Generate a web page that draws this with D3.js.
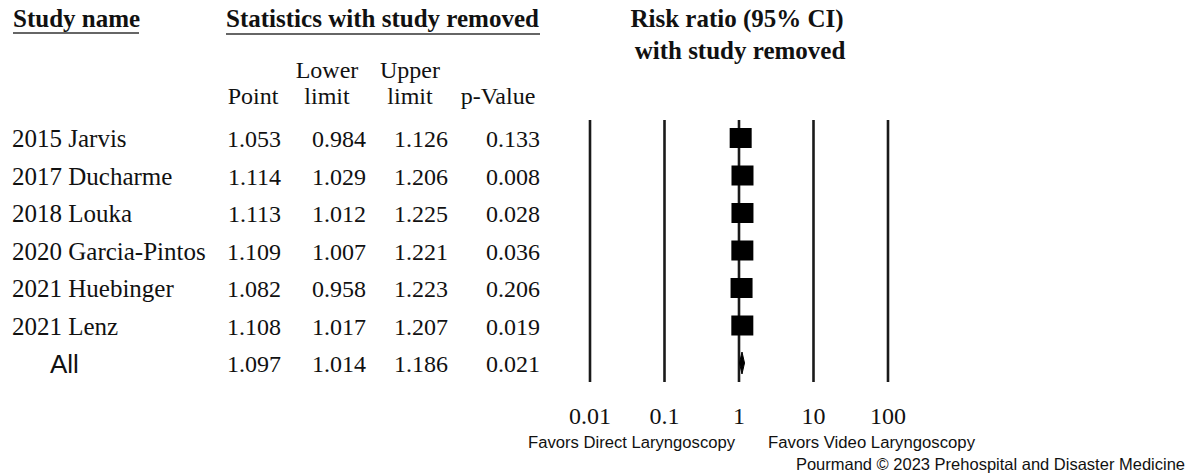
<!DOCTYPE html>
<html>
<head>
<meta charset="utf-8">
<script src="https://cdn.jsdelivr.net/npm/d3@7"></script>
<style>
  html, body { margin: 0; padding: 0; background: #fff; }
  svg { display: block; }
  .serif { font-family: "Liberation Serif", "Times New Roman", serif; fill: #111; }
  .sans { font-family: "Liberation Sans", Arial, sans-serif; fill: #111; }
</style>
</head>
<body>
<svg id="chart" width="1191" height="476"></svg>
<script>
// Leave-one-out sensitivity analysis: risk ratio with each study removed
const studies = ["2015 Jarvis", "2017 Ducharme", "2018 Louka", "2020 Garcia-Pintos", "2021 Huebinger", "2021 Lenz"];
const pointEst = [1.053, 1.114, 1.113, 1.109, 1.082, 1.108];
const lowerLim = [0.984, 1.029, 1.012, 1.007, 0.958, 1.017];
const upperLim = [1.126, 1.206, 1.225, 1.221, 1.223, 1.207];
const pValues  = [0.133, 0.008, 0.028, 0.036, 0.206, 0.019];
const overall  = { label: "All", point: 1.097, lower: 1.014, upper: 1.186, p: 0.021 };
const tickValues = [0.01, 0.1, 1, 10, 100];
const tickLabels = ["0.01", "0.1", "1", "10", "100"];

const svg = d3.select("#chart");
const fmt = d3.format(".3f");

// Rows: six studies followed by the pooled estimate
const rows = studies.map((s, i) => ({
  label: s, point: pointEst[i], lower: lowerLim[i], upper: upperLim[i], p: pValues[i], pooled: false
})).concat([{ ...overall, pooled: true }]);

const y = d3.scalePoint().domain(d3.range(rows.length)).range([147, 372]); // text baselines
const x = d3.scaleLog().domain([0.01, 100]).range([590, 888]);

// Column headers
const hdr = svg.append("g").attr("class", "serif");
hdr.append("text").attr("x", 13).attr("y", 27).attr("font-size", 25).attr("font-weight", "bold").text("Study name");
svg.append("line").attr("x1", 13).attr("x2", 139).attr("y1", 33).attr("y2", 33).attr("stroke", "#333").attr("stroke-width", 1.6);
hdr.append("text").attr("x", 226).attr("y", 27).attr("font-size", 25).attr("font-weight", "bold")
  .attr("textLength", 313).attr("lengthAdjust", "spacingAndGlyphs").text("Statistics with study removed");
svg.append("line").attr("x1", 226).attr("x2", 540).attr("y1", 34).attr("y2", 34).attr("stroke", "#333").attr("stroke-width", 1.6);

hdr.append("text").attr("x", 737).attr("y", 27).attr("font-size", 25).attr("font-weight", "bold").attr("text-anchor", "middle").text("Risk ratio (95% CI)");
hdr.append("text").attr("x", 740).attr("y", 59).attr("font-size", 25).attr("font-weight", "bold").attr("text-anchor", "middle").text("with study removed");

const colHeads = [
  { x: 253, l1: "", l2: "Point" },
  { x: 327, l1: "Lower", l2: "limit" },
  { x: 410, l1: "Upper", l2: "limit" },
  { x: 498, l1: "", l2: "p-Value" }
];
colHeads.forEach(c => {
  hdr.append("text").attr("x", c.x).attr("y", 78).attr("font-size", 24).attr("text-anchor", "middle").text(c.l1);
  hdr.append("text").attr("x", c.x).attr("y", 104).attr("font-size", 24).attr("text-anchor", "middle").text(c.l2);
});

// Table body
const colRight = [281, 366, 448, 540];
const body = svg.append("g");
rows.forEach((r, i) => {
  const yy = y(i);
  if (r.pooled) {
    body.append("text").attr("class", "sans").attr("x", 50).attr("y", yy + 1).attr("font-size", 26).text(r.label);
  } else {
    body.append("text").attr("class", "serif").attr("x", 12).attr("y", yy).attr("font-size", 25).text(r.label);
  }
  [r.point, r.lower, r.upper, r.p].forEach((v, j) => {
    body.append("text").attr("class", "serif").attr("x", colRight[j]).attr("y", yy)
      .attr("font-size", 24).attr("text-anchor", "end").text(fmt(v));
  });
});

// Reference lines at each tick of the log axis
const plot = svg.append("g");
plot.selectAll("line.grid").data(tickValues).join("line")
  .attr("class", "grid")
  .attr("x1", d => x(d)).attr("x2", d => x(d))
  .attr("y1", 120).attr("y2", 382)
  .attr("stroke", "#1a1a1a").attr("stroke-width", 2.6);

// Tick labels
svg.append("g").selectAll("text").data(tickValues).join("text")
  .attr("class", "serif")
  .attr("x", d => x(d)).attr("y", 424)
  .attr("font-size", 24).attr("text-anchor", "middle")
  .text((d, i) => tickLabels[i]);

// Study estimates: CI whisker plus square marker
const studyRows = rows.filter(r => !r.pooled);
const boxW = 22, boxH = 20;
plot.selectAll("line.ci").data(studyRows).join("line")
  .attr("class", "ci")
  .attr("x1", d => x(d.lower)).attr("x2", d => x(d.upper))
  .attr("y1", (d, i) => y(i) - 9).attr("y2", (d, i) => y(i) - 9)
  .attr("stroke", "#000").attr("stroke-width", 2);
plot.selectAll("rect.est").data(studyRows).join("rect")
  .attr("class", "est")
  .attr("x", d => x(d.point) - boxW / 2)
  .attr("y", (d, i) => y(i) - 9 - boxH / 2)
  .attr("width", boxW).attr("height", boxH)
  .attr("fill", "#000");

// Pooled estimate diamond
const pooled = rows[rows.length - 1];
const py = y(rows.length - 1) - 9;
plot.append("path")
  .attr("d", `M${x(pooled.lower)},${py} L${x(pooled.point)},${py - 11} L${x(pooled.upper)},${py} L${x(pooled.point)},${py + 11} Z`)
  .attr("fill", "#000").attr("stroke", "#000").attr("stroke-width", 1);

// Direction labels and credit
const foot = svg.append("g").attr("class", "sans").attr("font-size", 16);
foot.append("text").attr("x", 528).attr("y", 448).attr("textLength", 207).attr("lengthAdjust", "spacingAndGlyphs").text("Favors Direct Laryngoscopy");
foot.append("text").attr("x", 768).attr("y", 448).attr("textLength", 207).attr("lengthAdjust", "spacingAndGlyphs").text("Favors Video Laryngoscopy");
foot.append("text").attr("x", 1185).attr("y", 470).attr("font-size", 16.5).attr("text-anchor", "end").text("Pourmand © 2023 Prehospital and Disaster Medicine");
</script>
</body>
</html>
